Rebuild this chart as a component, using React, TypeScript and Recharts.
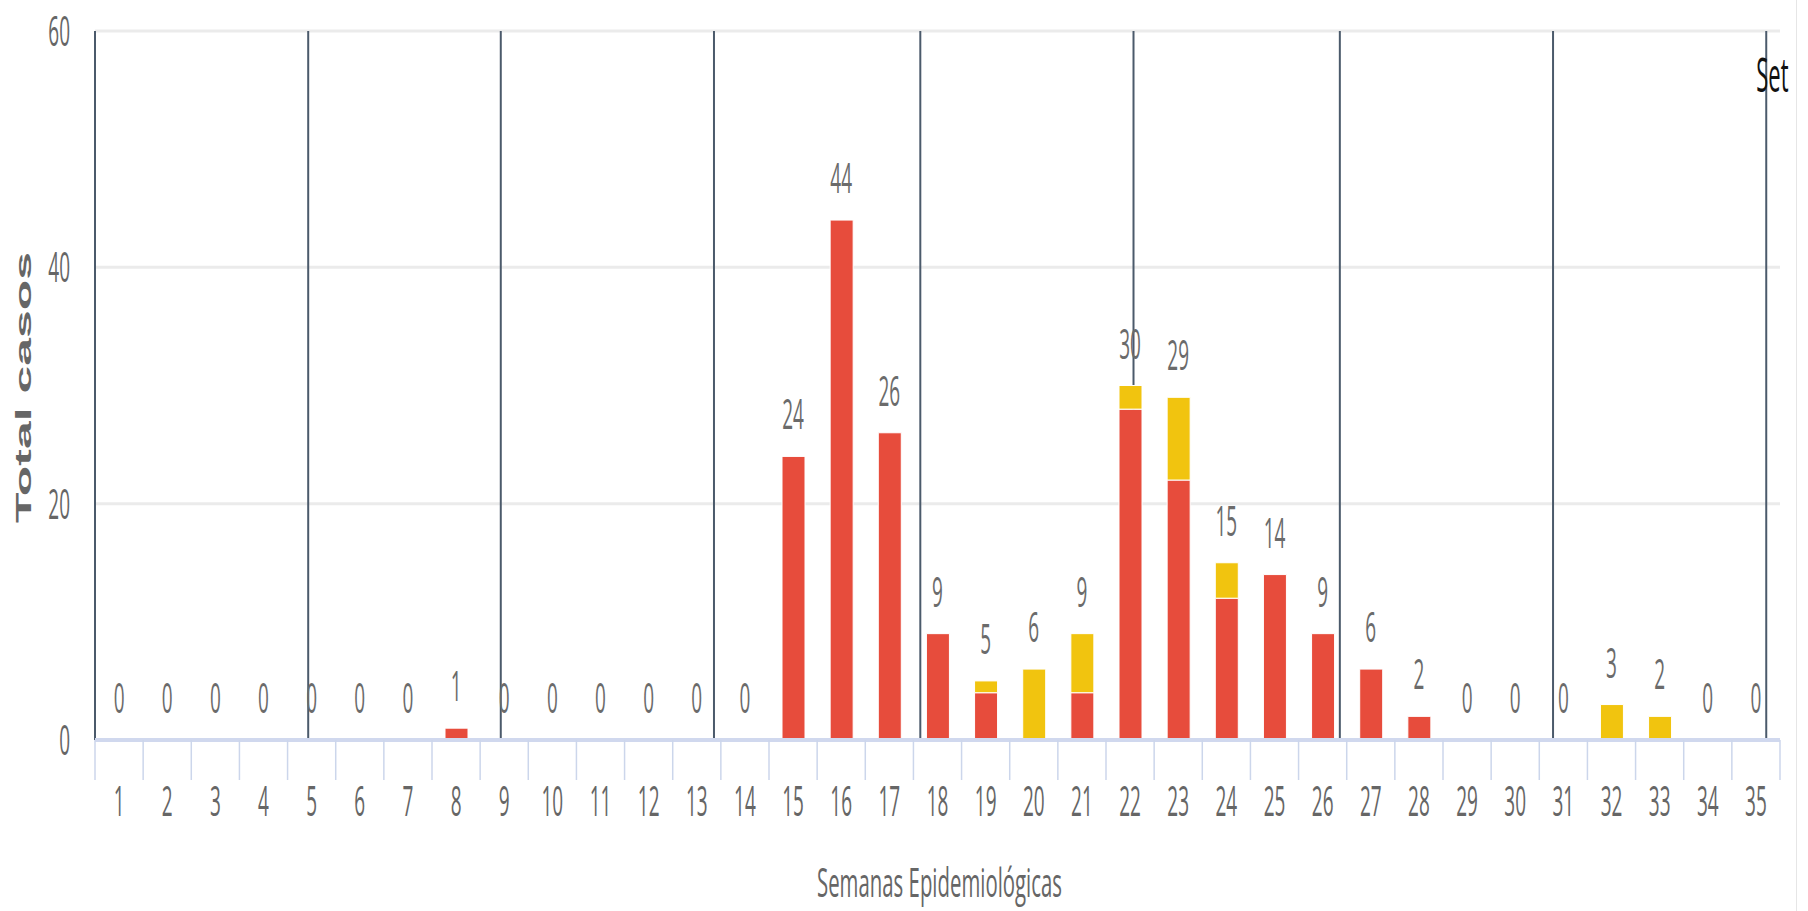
import React from 'react';
import { ComposedChart, Bar, Line, XAxis, YAxis, CartesianGrid, ReferenceLine, LabelList } from 'recharts';

// semanas epidemiológicas
const weeks = ['1', '2', '3', '4', '5', '6', '7', '8', '9', '10', '11', '12', '13', '14', '15', '16', '17', '18',
  '19', '20', '21', '22', '23', '24', '25', '26', '27', '28', '29', '30', '31', '32', '33', '34', '35'];

// casos (rojo) y casos (amarillo), apilados
const rojo = [0, 0, 0, 0, 0, 0, 0, 1, 0, 0, 0, 0, 0, 0, 24, 44, 26, 9, 4, 0, 4, 28, 22, 12, 14, 9, 6, 2, 0, 0, 0, 0, 0, 0, 0];
const amarillo = [0, 0, 0, 0, 0, 0, 0, 0, 0, 0, 0, 0, 0, 0, 0, 0, 0, 0, 1, 6, 5, 2, 7, 3, 0, 0, 0, 0, 0, 0, 0, 3, 2, 0, 0];

const yTicks = [0, 20, 40, 60];

// inicio de cada mes, en días desde el 1 de enero
const monthStartDays = [0, 31, 59, 90, 120, 151, 181, 212, 243];
const monthLabels = ['', '', '', '', '', '', '', '', 'Set'];

const data = weeks.map((w, i) => ({
  week: w,
  semana: i + 0.5, // centro de la semana, en semanas
  rojo: rojo[i],
  amarillo: amarillo[i],
  total: rojo[i] + amarillo[i],
}));

const FONT = "'Open Sans', 'Liberation Sans', sans-serif";
const SY = 2.2;

const Tall = ({ x, y, anchor = 'middle', size = 19, fill = '#666', length, children }: any) => (
  <text
    transform={`translate(${x},${y}) scale(1,${SY})`}
    textAnchor={anchor}
    fontSize={size}
    fontFamily={FONT}
    fill={fill}
    textLength={length}
    lengthAdjust={length ? 'spacingAndGlyphs' : undefined}
  >
    {children}
  </text>
);

const WeekTick = (props: any) => {
  const { x, y, payload, index, visibleTicksCount } = props;
  const half = payload.offset || 24.07;
  return (
    <g>
      <line x1={x - half} x2={x - half} y1={y} y2={y + 40} stroke="#ccd6eb" strokeWidth={1.5} />
      {index === visibleTicksCount - 1 && (
        <line x1={x + half} x2={x + half} y1={y} y2={y + 40} stroke="#ccd6eb" strokeWidth={1.5} />
      )}
      <Tall x={x} y={y + 76}>{payload.value}</Tall>
    </g>
  );
};

const CasesTick = (props: any) => {
  const { x, y, payload } = props;
  return <Tall x={x} y={y + 15} anchor="end">{payload.value}</Tall>;
};

const renderTotal = (props: any) => {
  const { x, y, value } = props;
  return <Tall x={x} y={y - 27} fill="#6b6b6b">{value}</Tall>;
};

// líneas de inicio de mes, detrás de las barras
const monthLineXs = ({ offset }: any) =>
  monthStartDays.map((d) => offset.left + (d / 7 / weeks.length) * offset.width);

const App = () => {
  return (
    <div style={{ position: 'absolute', left: 0, top: 0, width: 1808, height: 911, background: '#fff' }}>
      <ComposedChart
        width={1808}
        height={911}
        data={data}
        barSize={23}
        margin={{ top: 31, right: 28, bottom: 6, left: 0 }}
      >
        <CartesianGrid horizontal vertical={false} stroke="#ebebeb" strokeWidth={3} />
        <CartesianGrid
          horizontal={false}
          stroke="#4b5a6b"
          strokeWidth={2}
          verticalCoordinatesGenerator={monthLineXs}
        />
        <XAxis
          dataKey="week"
          height={165}
          tickSize={0}
          tickMargin={0}
          tickLine={false}
          interval={0}
          axisLine={{ stroke: '#d0d8ee', strokeWidth: 4 }}
          tick={<WeekTick />}
          label={{
            content: (p: any) => (
              <Tall x={p.viewBox.x + p.viewBox.width / 2 + 2} y={p.viewBox.y + 157} size={18} length={245}>
                Semanas Epidemiológicas
              </Tall>
            ),
          }}
        />
        <XAxis xAxisId="m" dataKey="semana" type="number" domain={[0, weeks.length]} hide allowDataOverflow />
        <YAxis
          width={95}
          domain={[0, 60]}
          ticks={yTicks}
          tickSize={0}
          tickMargin={25}
          axisLine={false}
          tickLine={false}
          tick={<CasesTick />}
          label={{
            content: (p: any) => {
              const cy = p.viewBox.y + p.viewBox.height / 2;
              return (
                <text
                  x={0}
                  y={0}
                  transform={`translate(31,${cy + 2}) rotate(-90)`}
                  textAnchor="middle"
                  fontSize={22}
                  fontWeight="bold"
                  fontFamily="'Liberation Sans', sans-serif"
                  fill="#666"
                  textLength={271}
                  lengthAdjust="spacingAndGlyphs"
                >
                  Total casos
                </text>
              );
            },
          }}
        />
        {monthStartDays.map((d, i) =>
          monthLabels[i] ? (
            <ReferenceLine
              key={d}
              xAxisId="m"
              x={d / 7}
              stroke="none"
              label={{
                content: (p: any) => (
                  <Tall x={p.viewBox.x - 10} y={92} anchor="start" size={22} fill="#111">
                    {monthLabels[i]}
                  </Tall>
                ),
              }}
            />
          ) : null
        )}
        <Bar dataKey="rojo" stackId="a" fill="#e74c3c" stroke="#fff" strokeWidth={1} isAnimationActive={false} />
        <Bar dataKey="amarillo" stackId="a" fill="#f1c40f" stroke="#fff" strokeWidth={1} isAnimationActive={false} />
        <Line
          dataKey="total"
          stroke="none"
          dot={false}
          activeDot={false}
          legendType="none"
          isAnimationActive={false}
        >
          <LabelList dataKey="total" content={renderTotal} />
        </Line>
      </ComposedChart>
      <div style={{ position: 'absolute', left: 1796, top: 0, width: 1, height: 911, background: '#e6e6e6' }} />
    </div>
  );
};

export default App;
